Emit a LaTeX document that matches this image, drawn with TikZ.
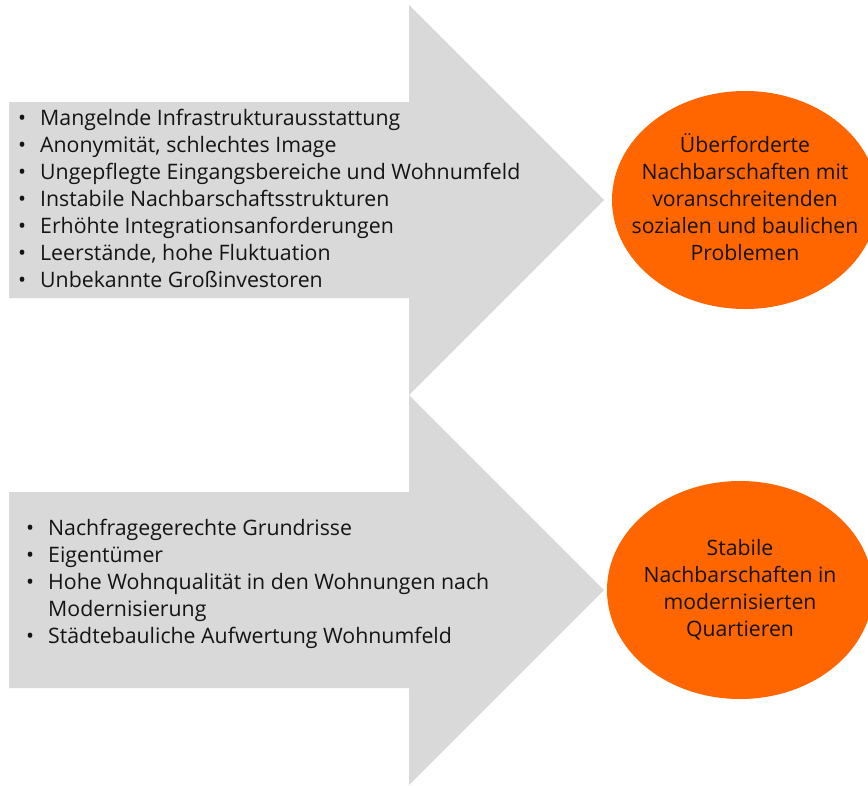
\documentclass[tikz,border=0pt]{standalone}
\usepackage{fontspec}
\setmainfont{Open Sans}
\usepackage{tikz}
\usetikzlibrary{positioning,shapes.geometric}
\definecolor{arrgray}{RGB}{217,217,217}
\definecolor{resorange}{RGB}{255,102,0}
\definecolor{txtdark}{RGB}{20,20,20}
\newcommand{\bitem}[1]{\makebox[22pt][l]{\textbullet}#1}
\tikzset{
  bigarr/.style={fill=arrgray, draw=none},
  listtxt/.style={anchor=north west, inner sep=0pt, align=left, text=txtdark,
                  font=\fontsize{21.3}{27}\selectfont},
  resell/.style={ellipse, fill=resorange, draw=none, minimum width=266pt,
                 minimum height=218pt, inner sep=0pt},
  restxt/.style={inner sep=0pt, align=center, text=txtdark,
                 font=\fontsize{21.2}{27}\selectfont},
}

\begin{document}
\begin{tikzpicture}[x=1pt,y=-1pt]
  \useasboundingbox (0,0) rectangle (868,785);
  \clip (0,0) rectangle (868,785);
%---------------- upper arrow ----------------
  \fill[bigarr] (9,102) -- (409,102) -- (409,5) -- (604,200) -- (409,395)
       -- (409,298) -- (9,298) -- cycle;
  \node[listtxt] (probs) at (18,109)
       {\bitem{Mangelnde Infrastrukturausstattung}\\
        \bitem{Anonymität, schlechtes Image}\\
        \bitem{Ungepflegte Eingangsbereiche und Wohnumfeld}\\
        \bitem{Instabile Nachbarschaftsstrukturen}\\
        \bitem{Erhöhte Integrationsanforderungen}\\
        \bitem{Leerstände, hohe Fluktuation}\\
        \bitem{Unbekannte Großinvestoren}};
  \node[resell] (resbad) at (745,200) {};
  \node[restxt] (resbadtxt) at ([yshift=3pt]resbad.center)
       {Überforderte\\ Nachbarschaften mit\\ voranschreitenden\\
        sozialen und baulichen\\ Problemen};
%---------------- lower arrow ----------------
  \fill[bigarr] (9,492) -- (409,492) -- (409,395) -- (604,590) -- (409,785)
       -- (409,688) -- (9,688) -- cycle;
  \node[listtxt] (goods) at (26,519)
       {\bitem{Nachfragegerechte Grundrisse}\\
        \bitem{Eigentümer}\\
        \bitem{Hohe Wohnqualität in den Wohnungen nach}\\
        \hspace*{22pt}Modernisierung\\
        \bitem{Städtebauliche Aufwertung Wohnumfeld}};
  \node[resell] (resgood) at (740,590) {};
  \node[restxt] (resgoodtxt) at ([yshift=0.5pt]resgood.center)
       {Stabile\\ Nachbarschaften in\\ modernisierten\\ Quartieren};
\end{tikzpicture}
\end{document}
